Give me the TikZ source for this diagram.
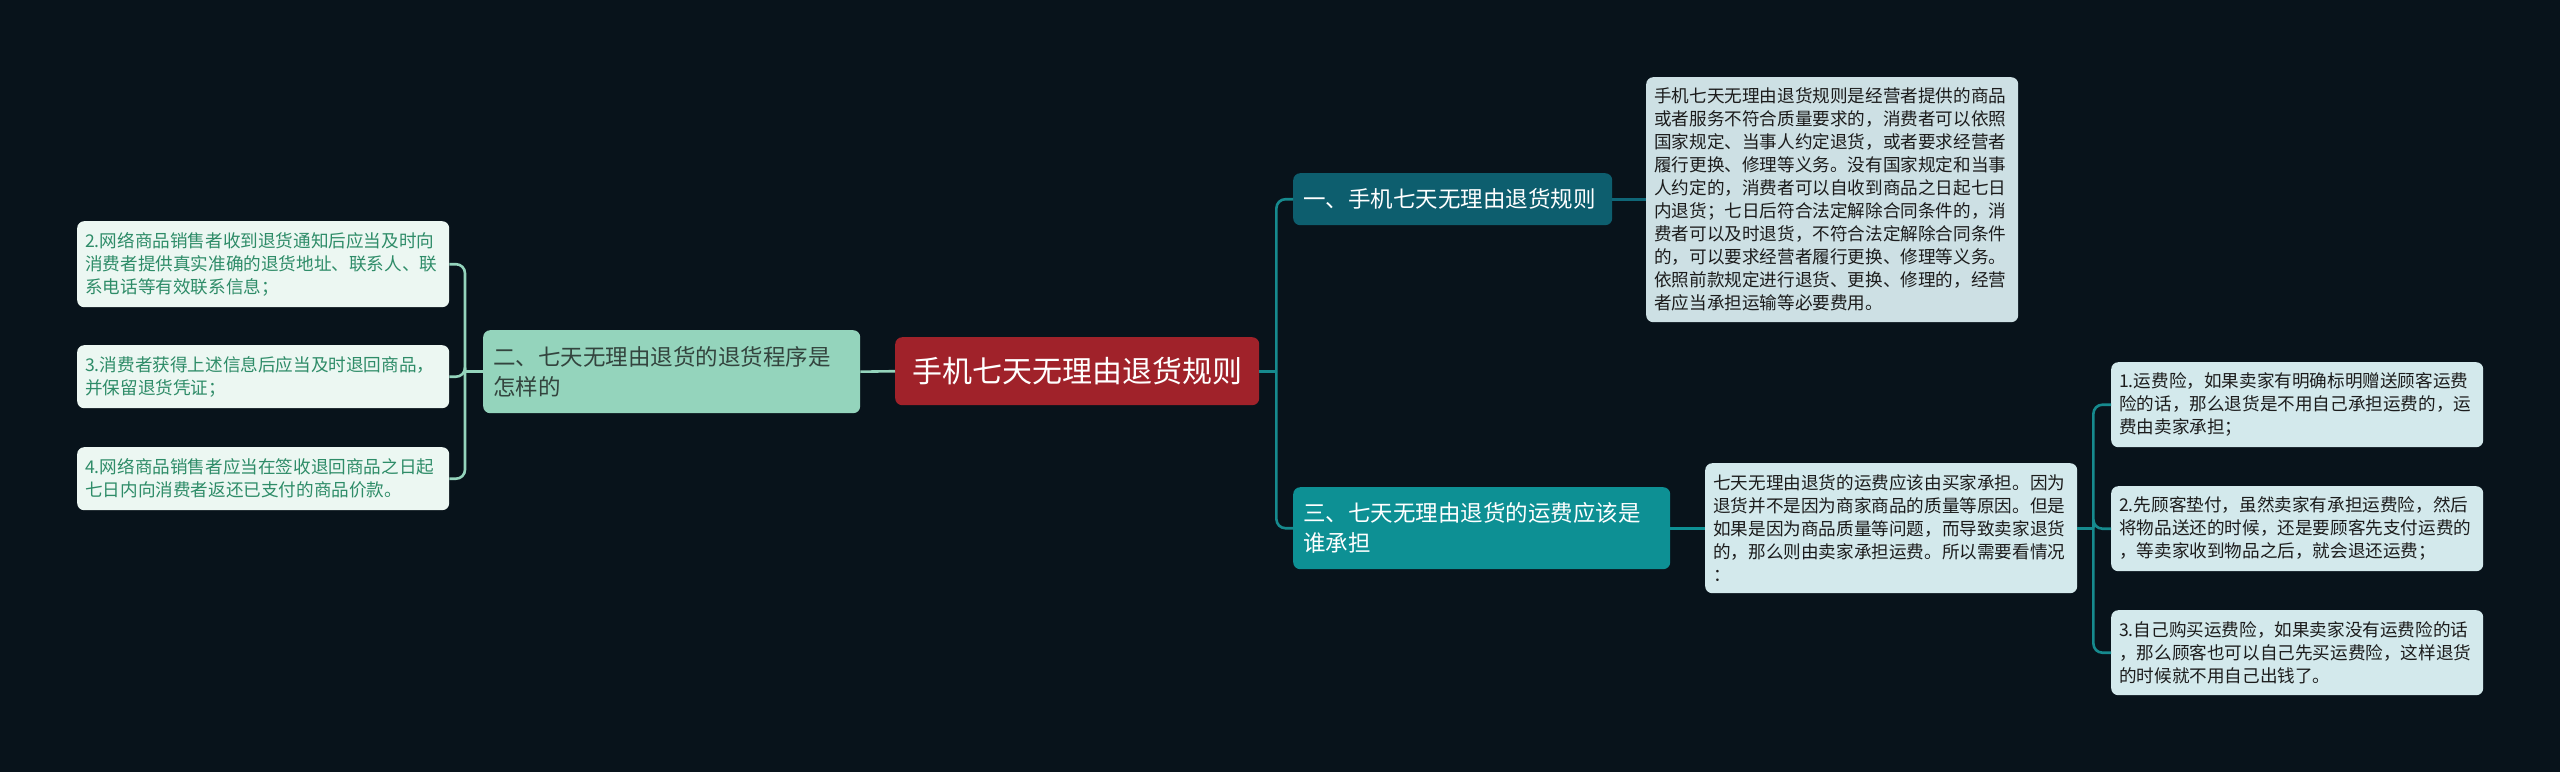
\documentclass[tikz,border=0pt]{standalone}
\usepackage{fontspec}
\setmainfont{Noto Sans CJK SC}
\usetikzlibrary{calc}
\definecolor{bg}{HTML}{08131B}
\definecolor{rootc}{HTML}{A0222A}
\definecolor{onec}{HTML}{0D5E6E}
\definecolor{threec}{HTML}{0D9094}
\definecolor{twoc}{HTML}{94D4BC}
\definecolor{leafl}{HTML}{ECF7F2}
\definecolor{leaflt}{HTML}{2E8C68}
\definecolor{boxa}{HTML}{CDE0E4}
\definecolor{boxb}{HTML}{D3E9EC}
\definecolor{darkt}{HTML}{1C1C1C}
\definecolor{twot}{HTML}{33443E}
\definecolor{connr}{HTML}{168A8E}
\definecolor{connone}{HTML}{0F6677}
\tikzset{
  base/.style={rounded corners=7pt, inner ysep=0pt, align=left, anchor=north west},
  small/.style={font=\fontsize{17.6}{23}\selectfont},
  big/.style={font=\fontsize{22.5}{30}\selectfont, text=white},
  leafleft/.style={base, small, fill=leafl, text=leaflt, inner xsep=8pt, text width=356pt},
  leafright/.style={base, small, fill=boxb, text=darkt, inner xsep=8pt, text width=356pt},
  conn/.style={line width=2.6pt, rounded corners=9pt},
}
\begin{document}
\begin{tikzpicture}[x=1pt,y=-1pt]
\useasboundingbox (0,0) rectangle (2560,772);
\fill[bg] (0,0) rectangle (2560,772);
% root
\node[rounded corners=7pt, fill=rootc, text=white, font=\fontsize{30}{36}\selectfont,
  minimum width=364pt, minimum height=68pt, inner sep=0pt, anchor=north west] (root) at (895,337) {手机七天无理由退货规则};
% level 1
\node[base, big, fill=onec, inner xsep=10pt, text width=299pt, minimum height=52pt] (n1) at (1293,173) {一、手机七天无理由退货规则};
\node[base, big, fill=threec, inner xsep=10pt, text width=357pt, minimum height=82pt] (n3) at (1293,487) {三、七天无理由退货的运费应该是\\谁承担};
\node[base, big, fill=twoc, text=twot, inner xsep=10pt, text width=357pt, minimum height=83pt] (n2) at (483,330) {二、七天无理由退货的退货程序是\\怎样的};
% details
\node[base, small, fill=boxa, text=darkt, inner xsep=8pt, text width=356pt, minimum height=245pt] (b1) at (1646,77) {手机七天无理由退货规则是经营者提供的商品\\或者服务不符合质量要求的，消费者可以依照\\国家规定、当事人约定退货，或者要求经营者\\履行更换、修理等义务。没有国家规定和当事\\人约定的，消费者可以自收到商品之日起七日\\内退货；七日后符合法定解除合同条件的，消\\费者可以及时退货，不符合法定解除合同条件\\的，可以要求经营者履行更换、修理等义务。\\依照前款规定进行退货、更换、修理的，经营\\者应当承担运输等必要费用。};
\node[base, small, fill=boxb, text=darkt, inner xsep=8pt, text width=356pt, minimum height=130pt] (b3) at (1705,463) {七天无理由退货的运费应该由买家承担。因为\\退货并不是因为商家商品的质量等原因。但是\\如果是因为商品质量等问题，而导致卖家退货\\的，那么则由卖家承担运费。所以需要看情况\\：};
% left leaves
\node[leafleft, minimum height=86pt] (l1) at (77,221) {2.网络商品销售者收到退货通知后应当及时向\\消费者提供真实准确的退货地址、联系人、联\\系电话等有效联系信息；};
\node[leafleft, minimum height=63pt] (l2) at (77,345) {3.消费者获得上述信息后应当及时退回商品，\\并保留退货凭证；};
\node[leafleft, minimum height=63pt] (l3) at (77,447) {4.网络商品销售者应当在签收退回商品之日起\\七日内向消费者返还已支付的商品价款。};
% right leaves
\node[leafright, minimum height=85pt] (r1) at (2111,362) {1.运费险，如果卖家有明确标明赠送顾客运费\\险的话，那么退货是不用自己承担运费的，运\\费由卖家承担；};
\node[leafright, minimum height=85pt] (r2) at (2111,486) {2.先顾客垫付，虽然卖家有承担运费险，然后\\将物品送还的时候，还是要顾客先支付运费的\\，等卖家收到物品之后，就会退还运费；};
\node[leafright, minimum height=85pt] (r3) at (2111,610) {3.自己购买运费险，如果卖家没有运费险的话\\，那么顾客也可以自己先买运费险，这样退货\\的时候就不用自己出钱了。};
% junctions
\coordinate (jr) at ($(root.east)+(17,0)$);
\coordinate (jl) at ($(n2.west)+(-18,0)$);
\coordinate (jb) at ($(b3.east)+(16,0)$);
% connectors
\draw[conn, connr] (root.east) -- (jr);
\draw[conn, connr] (n1.west) -| (jr);
\draw[conn, connr] (n3.west) -| (jr);
\draw[conn, twoc] (root.west) -- (n2.east);
\draw[conn, connone] (n1.east) -- (b1.west |- n1.east);
\draw[conn, threec] (n3.east) -- (b3.west |- n3.east);
\draw[conn, twoc] (n2.west) -- (jl);
\draw[conn, twoc] (l1.east) -| (jl);
\draw[conn, twoc] (l2.east) -| (jl);
\draw[conn, twoc] (l3.east) -| (jl);
\draw[conn, connr] (b3.east) -- (jb);
\draw[conn, connr] (r1.west) -| (jb);
\draw[conn, connr] (r2.west) -| (jb);
\draw[conn, connr] (r3.west) -| (jb);
\end{tikzpicture}
\end{document}
